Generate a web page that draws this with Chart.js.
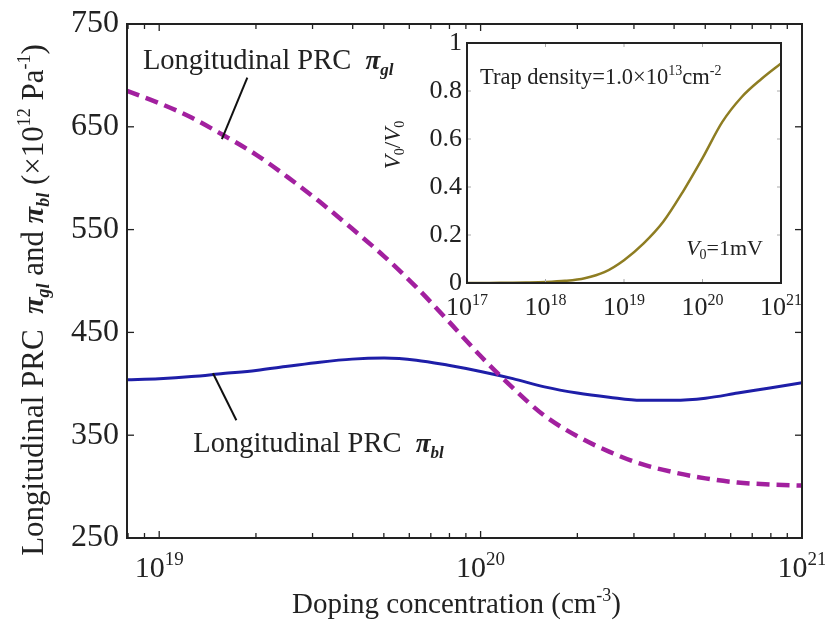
<!DOCTYPE html>
<html><head><meta charset="utf-8">
<script src="https://cdn.jsdelivr.net/npm/chart.js@4.4.0/dist/chart.umd.min.js"></script>
<style>
html,body{margin:0;padding:0;background:#fff;}
#wrap{position:relative;width:825px;height:629px;overflow:hidden;}
#main{position:absolute;left:0;top:0;}
#inset{position:absolute;left:370px;top:25px;}
</style></head><body>
<div id="wrap"><canvas id="main" width="825" height="629"></canvas><canvas id="inset" width="455" height="297"></canvas></div>
<script>
// ---- main chart data ----
const dopingConc = [7.94e18, 1e19, 1.26e19, 1.58e19, 2e19, 2.51e19, 3.16e19, 3.98e19, 5.01e19, 6.31e19, 7.94e19,
                    1e20, 1.26e20, 1.58e20, 2e20, 2.51e20, 3.16e20, 3.98e20, 5.01e20, 6.31e20, 7.94e20, 1e21];
const piGl = [685, 673, 659, 642, 623, 601, 577, 551, 524, 494, 461,
              427, 396, 369, 349, 334, 322, 314, 308, 304, 302, 301];
const piBl = [404, 405, 407, 410, 413, 417, 421, 424, 425, 423, 418,
              412, 405, 397, 391, 387, 384, 384, 386, 391, 396, 401];
const yTickValues = [250, 350, 450, 550, 650, 750];
const yTickLabels = ['250', '350', '450', '550', '650', '750'];
const xTickValues = [1e19, 1e20, 1e21];
const xTickExps = ['19', '20', '21'];

// ---- inset data ----
const trapConc = [1e17, 1.78e17, 3.16e17, 5.62e17, 1e18, 1.78e18, 3.16e18, 5.62e18, 1e19,
                  1.78e19, 3.16e19, 5.62e19, 1e20, 1.78e20, 3.16e20, 5.62e20, 1e21];
const voltRatio = [0.000, 0.000, 0.001, 0.002, 0.004, 0.009, 0.020, 0.045, 0.095,
                   0.165, 0.255, 0.380, 0.520, 0.670, 0.775, 0.850, 0.915];
const insetYTicks = [0, 0.2, 0.4, 0.6, 0.8, 1];
const insetYLabels = ['0', '0.2', '0.4', '0.6', '0.8', '1'];
const insetXTicks = [1e17, 1e18, 1e19, 1e20, 1e21];
const insetXExps = ['17', '18', '19', '20', '21'];

const SERIF = "'Liberation Serif', 'Times New Roman', serif";
const TXT = '#222';

function F(size, style) { return (style ? style + ' ' : '') + size + 'px ' + SERIF; }
function drawRich(ctx, parts, x, y, align) {
  let w = 0;
  for (const p of parts) { ctx.font = p.f; w += ctx.measureText(p.t).width; }
  let cx = align === 'center' ? x - w / 2 : (align === 'right' ? x - w : x);
  ctx.textAlign = 'left'; ctx.textBaseline = 'alphabetic';
  for (const p of parts) { ctx.font = p.f; ctx.fillText(p.t, cx, y + (p.dy || 0)); cx += ctx.measureText(p.t).width; }
}
function line(ctx, x1, y1, x2, y2) { ctx.beginPath(); ctx.moveTo(x1, y1); ctx.lineTo(x2, y2); ctx.stroke(); }

const mainPlugin = {
  id: 'mainDeco',
  afterDraw(chart) {
    const ctx = chart.ctx, a = chart.chartArea, xs = chart.scales.x, ys = chart.scales.y;
    ctx.save();
    ctx.strokeStyle = '#222'; ctx.lineWidth = 2;
    ctx.strokeRect(a.left, a.top, a.right - a.left, a.bottom - a.top);
    ctx.lineWidth = 1.3;
    for (const v of yTickValues) {
      const py = ys.getPixelForValue(v);
      line(ctx, a.left, py, a.left + 7, py); line(ctx, a.right - 7, py, a.right, py);
    }
    const minors = [];
    for (const d of [1e18, 1e19, 1e20]) for (let m = 2; m <= 9; m++) { const v = m * d; if (v > xs.min * 1.001 && v < xs.max) minors.push(v); }
    for (const v of minors) {
      const px = xs.getPixelForValue(v);
      line(ctx, px, a.bottom, px, a.bottom - 5); line(ctx, px, a.top, px, a.top + 5);
    }
    for (const v of xTickValues) {
      const px = xs.getPixelForValue(v);
      line(ctx, px, a.bottom, px, a.bottom - 7); line(ctx, px, a.top, px, a.top + 7);
    }
    ctx.fillStyle = TXT;
    xTickValues.forEach((v, i) => {
      const px = xs.getPixelForValue(v);
      drawRich(ctx, [{t: '10', f: F(30)}, {t: xTickExps[i], f: F(19), dy: -12}], px, a.bottom + 39, 'center');
    });
    drawRich(ctx, [{t: 'Doping concentration (cm', f: F(29)}, {t: '-3', f: F(18), dy: -12}, {t: ')', f: F(29)}],
      (a.left + a.right) / 2 - 8, 613, 'center');
    ctx.save();
    ctx.translate(43, 300); ctx.rotate(-Math.PI / 2);
    drawRich(ctx, [
      {t: 'Longitudinal PRC  ', f: F(31)}, {t: 'π', f: F(30, 'bold italic')}, {t: 'gl', f: F(18, 'bold italic'), dy: 6},
      {t: ' and ', f: F(31)}, {t: 'π', f: F(30, 'bold italic')}, {t: 'bl', f: F(18, 'bold italic'), dy: 6},
      {t: ' (×10', f: F(31)}, {t: '12', f: F(18), dy: -13}, {t: ' Pa', f: F(31)}, {t: '-1', f: F(18), dy: -13}, {t: ')', f: F(31)}
    ], 0, 0, 'center');
    ctx.restore();
    ctx.strokeStyle = '#111'; ctx.lineWidth = 2;
    line(ctx, xs.getPixelForValue(1.88e19), ys.getPixelForValue(697.9), xs.getPixelForValue(1.567e19), ys.getPixelForValue(638));
    line(ctx, xs.getPixelForValue(1.47e19), ys.getPixelForValue(410.2), xs.getPixelForValue(1.738e19), ys.getPixelForValue(364.6));
    drawRich(ctx, [{t: 'Longitudinal PRC  ', f: F(28.5)}, {t: 'π', f: F(27, 'bold italic')}, {t: 'gl', f: F(17, 'bold italic'), dy: 6}],
      xs.getPixelForValue(8.9e18), ys.getPixelForValue(706), 'left');
    drawRich(ctx, [{t: 'Longitudinal PRC  ', f: F(28.5)}, {t: 'π', f: F(27, 'bold italic')}, {t: 'bl', f: F(17, 'bold italic'), dy: 6}],
      xs.getPixelForValue(1.276e19), ys.getPixelForValue(333.5), 'left');
    ctx.restore();
  }
};

new Chart(document.getElementById('main'), {
  type: 'line',
  data: { datasets: [
    { label: 'Longitudinal PRC πgl', data: dopingConc.map((x, i) => ({x, y: piGl[i]})), borderColor: '#a2209f', borderWidth: 4.5,
      borderDash: [13, 7], pointRadius: 0, cubicInterpolationMode: 'monotone', tension: 0.4 },
    { label: 'Longitudinal PRC πbl', data: dopingConc.map((x, i) => ({x, y: piBl[i]})), borderColor: '#1e1ea8', borderWidth: 3,
      pointRadius: 0, cubicInterpolationMode: 'monotone', tension: 0.4 }
  ]},
  options: {
    responsive: false, animation: false, devicePixelRatio: 1,
    layout: {padding: {top: 23, right: 23, left: 0, bottom: 0}},
    plugins: {legend: {display: false}, tooltip: {enabled: false}},
    scales: {
      x: { type: 'logarithmic', min: 7.94e18, max: 1e21, grid: {display: false, drawTicks: false}, border: {display: false},
           ticks: {display: false}, afterFit: s => { s.height = 91; } },
      y: { min: 250, max: 750, afterBuildTicks: s => { s.ticks = yTickValues.map(v => ({value: v})); },
           ticks: {font: {family: SERIF, size: 32, lineHeight: 1}, color: TXT, padding: 8, callback: (v, i) => yTickLabels[i]},
           grid: {display: false, drawTicks: false}, border: {display: false}, afterFit: s => { s.width = 127; } }
    }
  },
  plugins: [mainPlugin]
});

const insetPlugin = {
  id: 'insetDeco',
  beforeDatasetsDraw(chart) {
    const ctx = chart.ctx, a = chart.chartArea;
    ctx.save(); ctx.fillStyle = '#fff'; ctx.fillRect(a.left, a.top, a.right - a.left, a.bottom - a.top); ctx.restore();
  },
  afterDraw(chart) {
    const ctx = chart.ctx, a = chart.chartArea, xs = chart.scales.x, ys = chart.scales.y;
    ctx.save();
    ctx.strokeStyle = '#aaa'; ctx.lineWidth = 1;
    for (const v of insetYTicks) { const py = ys.getPixelForValue(v); line(ctx, a.left, py, a.left + 4, py); line(ctx, a.right - 4, py, a.right, py); }
    for (const v of insetXTicks) { const px = xs.getPixelForValue(v); line(ctx, px, a.bottom, px, a.bottom - 4); line(ctx, px, a.top, px, a.top + 4); }
    ctx.strokeStyle = '#222'; ctx.lineWidth = 2;
    ctx.strokeRect(a.left, a.top, a.right - a.left, a.bottom - a.top);
    ctx.fillStyle = TXT;
    insetXTicks.forEach((v, i) => {
      const px = xs.getPixelForValue(v);
      drawRich(ctx, [{t: '10', f: F(26)}, {t: insetXExps[i], f: F(16), dy: -10}], px, a.bottom + 32, 'center');
    });
    drawRich(ctx, [{t: 'Trap density=1.0×10', f: F(22.5)}, {t: '13', f: F(14), dy: -9}, {t: 'cm', f: F(22.5)}, {t: '-2', f: F(14), dy: -9}],
      a.left + 13, a.top + 41, 'left');
    drawRich(ctx, [{t: 'V', f: F(22, 'italic')}, {t: '0', f: F(14), dy: 4}, {t: '=1mV', f: F(22)}], a.right - 18, a.bottom - 28, 'right');
    ctx.save();
    ctx.translate(a.left - 67, a.top + 102); ctx.rotate(-Math.PI / 2);
    drawRich(ctx, [{t: 'V', f: F(23, 'italic')}, {t: '0', f: F(14), dy: 4}, {t: '/', f: F(23)}, {t: 'V', f: F(23, 'italic')}, {t: '0', f: F(14), dy: 4}], 0, 0, 'center');
    ctx.restore();
    ctx.restore();
  }
};

new Chart(document.getElementById('inset'), {
  type: 'line',
  data: { datasets: [
    { label: 'V0/V0', data: trapConc.map((x, i) => ({x, y: voltRatio[i]})), borderColor: '#8e7d22', borderWidth: 2.5,
      pointRadius: 0, cubicInterpolationMode: 'monotone', tension: 0.4 }
  ]},
  options: {
    responsive: false, animation: false, devicePixelRatio: 1,
    layout: {padding: {top: 12, right: 44, left: 0, bottom: 0}},
    plugins: {legend: {display: false}, tooltip: {enabled: false}},
    scales: {
      x: { type: 'logarithmic', min: 1e17, max: 1e21, grid: {display: false, drawTicks: false}, border: {display: false},
           ticks: {display: false}, afterFit: s => { s.height = 39; } },
      y: { min: 0, max: 1, afterBuildTicks: s => { s.ticks = insetYTicks.map(v => ({value: v})); },
           ticks: {font: {family: SERIF, size: 26, lineHeight: 1}, color: TXT, padding: 5, callback: (v, i) => insetYLabels[i]},
           grid: {display: false, drawTicks: false}, border: {display: false}, afterFit: s => { s.width = 97; } }
    }
  },
  plugins: [insetPlugin]
});
</script>
</body></html>
